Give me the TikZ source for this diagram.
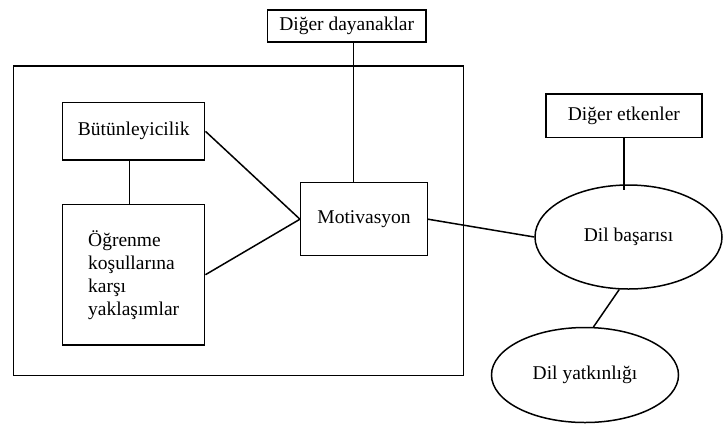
\documentclass[tikz,border=0pt]{standalone}
\usepackage{fontspec}
\setmainfont{Liberation Serif}
\usepackage{tikz}
\usetikzlibrary{shapes.geometric,calc}

\begin{document}
\begin{tikzpicture}[x=0.5pt,y=-0.5pt,
    every node/.style={font=\fontsize{9.75}{11.5}\selectfont},
    box/.style={draw,line width=0.75pt,rectangle,inner sep=0pt},
    oval/.style={draw,line width=0.75pt,ellipse,inner sep=0pt},
    link/.style={line width=0.75pt}]
    \useasboundingbox (0,0) rectangle (724,425);

    % Outer frame
    \draw[line width=0.75pt] (13.3,66) rectangle (463.3,375.3);

    % Boxes
    \node[box,minimum width=79.3pt,minimum height=15.9pt] (day) at (346.7,25.9) {Diğer dayanaklar};
    \node[box,minimum width=71pt,minimum height=28.8pt] (but) at (133.7,131.3) {Bütünleyicilik};
    \node[box,minimum width=71pt,minimum height=70.4pt,align=left] (ogr) at (133.7,274.7)
        {Öğrenme\\koşullarına\\karşı\\yaklaşımlar};
    \node[box,minimum width=63.3pt,minimum height=36.5pt] (mot) at (364,219.2) {Motivasyon};
    \node[box,minimum width=77.9pt,minimum height=21.7pt] (etk) at (623.9,115.7) {Diğer etkenler};

    % Ellipses
    \node[oval,minimum width=93.5pt,minimum height=52pt] (bas) at (628.5,237) {Dil başarısı};
    \node[oval,minimum width=93.5pt,minimum height=47.5pt] (yat) at (585,375) {Dil yatkınlığı};

    % Connectors
    \draw[link] ([xshift=3.5pt]day.south) -- ([xshift=3.5pt]day.south |- mot.north);
    \draw[link] ([xshift=-2pt]but.south) -- ([xshift=-2pt]but.south |- ogr.north);
    \draw[link] (but.east) -- (mot.west);
    \draw[link] (ogr.east) -- (mot.west);
    \draw[link] (mot.east) -- (bas.west);
    \draw[link,shorten >=-3pt] (etk.south) -- (etk.south |- bas.north);
    \draw[link] (bas.260) -- (yat.80);
\end{tikzpicture}
\end{document}
